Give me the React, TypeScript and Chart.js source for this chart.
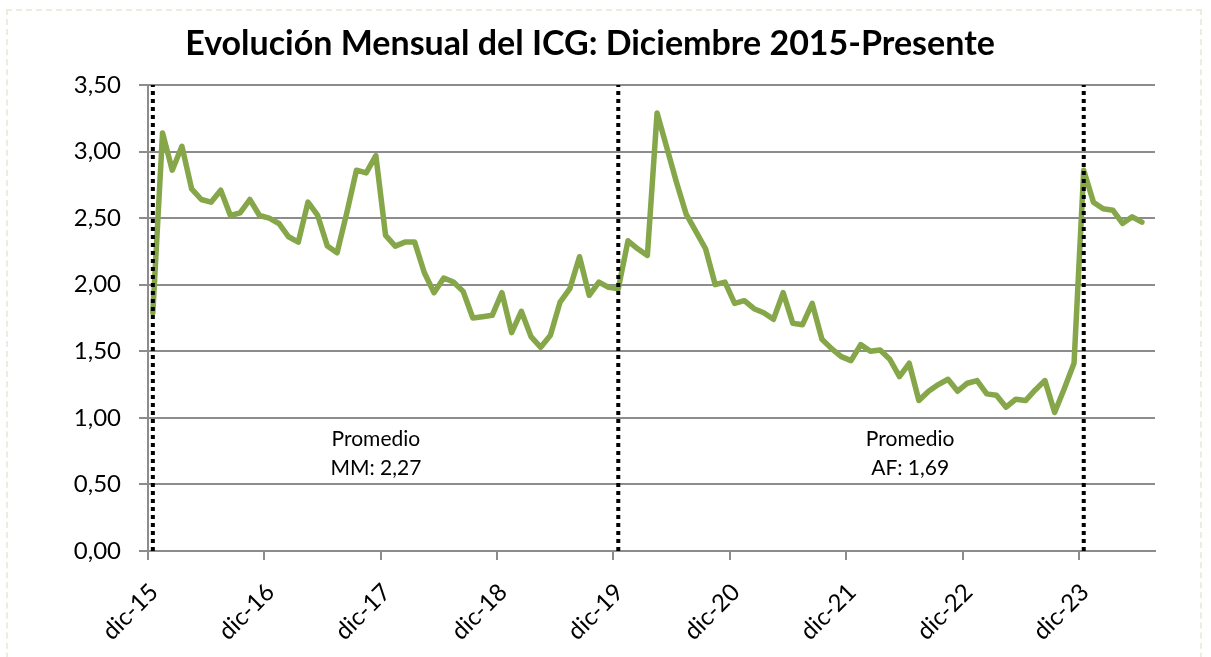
import React, { useEffect, useRef } from "react";
import { Chart, registerables } from "chart.js";

Chart.register(...registerables);

const TITLE = "Evolución Mensual del ICG: Diciembre 2015-Presente";

// Month labels shown on the x axis (one per December)
const tickLabels = ["dic-15", "dic-16", "dic-17", "dic-18", "dic-19", "dic-20", "dic-21", "dic-22", "dic-23"];

// Monthly ICG values, dic-15 .. jun-24
const icg2016 = [1.79, 3.14, 2.86, 3.04, 2.72, 2.64, 2.62, 2.71, 2.52, 2.54, 2.64, 2.52];
const icg2017 = [2.5, 2.46, 2.36, 2.32, 2.62, 2.52, 2.29, 2.24, 2.54, 2.86, 2.84, 2.97];
const icg2018 = [2.37, 2.29, 2.32, 2.32, 2.09, 1.94, 2.05, 2.02, 1.95, 1.75, 1.76, 1.77];
const icg2019 = [1.94, 1.64, 1.8, 1.61, 1.53, 1.62, 1.87, 1.97, 2.21, 1.92, 2.02, 1.98];
const icg2020 = [1.97, 2.33, 2.27, 2.22, 3.29, 3.03, 2.77, 2.53, 2.4, 2.27, 2.0, 2.02];
const icg2021 = [1.86, 1.88, 1.82, 1.79, 1.74, 1.94, 1.71, 1.7, 1.86, 1.59, 1.52, 1.46];
const icg2022 = [1.43, 1.55, 1.5, 1.51, 1.44, 1.31, 1.41, 1.13, 1.2, 1.25, 1.29, 1.2];
const icg2023 = [1.26, 1.28, 1.18, 1.17, 1.08, 1.14, 1.13, 1.21, 1.28, 1.04, 1.22, 1.41];
const icg2024 = [2.86, 2.62, 2.57, 2.56, 2.46, 2.51, 2.47];
const icgValues = [...icg2016, ...icg2017, ...icg2018, ...icg2019, ...icg2020, ...icg2021, ...icg2022, ...icg2023, ...icg2024];

// Months (index from dic-15) marked with a dotted vertical line
const eventMonths = [0, 48, 96];

// Average notes
const noteLines1 = ["Promedio", "MM: 2,27"];
const noteLines2 = ["Promedio", "AF: 1,69"];

const FONT = "Lato, 'Open Sans', sans-serif";
const GREEN = "#86a64a";
const GRID = "#8c8c8c";

export default function App() {
  const ref = useRef<HTMLCanvasElement | null>(null);

  useEffect(() => {
    if (!ref.current) return;

    const overlay = {
      id: "overlay",
      afterDraw(chart: any) {
        const ctx = chart.ctx;
        const xs = chart.scales.x;
        const ys = chart.scales.y;
        ctx.save();
        ctx.fillStyle = "#000";
        ctx.textAlign = "center";
        ctx.textBaseline = "middle";
        ctx.font = `bold 34px ${FONT}`;
        ctx.fillText(TITLE, 590, 44);

        ctx.font = `21px ${FONT}`;
        const notes = [
          { lines: noteLines1, x: 23.0 },
          { lines: noteLines2, x: 78.1 },
        ];
        const lineYs = [0.84, 0.62];
        for (const n of notes) {
          const px = xs.getPixelForValue(n.x);
          n.lines.forEach((t, k) => {
            ctx.fillText(t, px, ys.getPixelForValue(lineYs[k]));
          });
        }
        ctx.restore();
      },
    };

    const chart = new Chart(ref.current, {
      type: "line",
      data: {
        datasets: [
          ...eventMonths.map((m) => ({
            data: [
              { x: m, y: 0 },
              { x: m, y: 3.5 },
            ],
            borderColor: "#000",
            borderWidth: 4,
            borderDash: [4, 4],
            pointRadius: 0,
            order: 0,
          })),
          {
            data: icgValues.map((v, i) => ({ x: i, y: v })),
            borderColor: GREEN,
            borderWidth: 5.5,
            pointRadius: 0,
            tension: 0,
            borderJoinStyle: "round",
            borderCapStyle: "round",
            order: 1,
          },
        ] as any,
      },
      options: {
        animation: false,
        responsive: false,
        maintainAspectRatio: false,
        layout: { padding: { left: 0, right: 56, top: 85, bottom: 0 } },
        plugins: {
          legend: { display: false },
          tooltip: { enabled: false },
          title: { display: false },
        },
        scales: {
          x: {
            type: "linear",
            min: -0.5,
            max: 103.35,
            afterBuildTicks: (s: any) => {
              s.ticks = tickLabels.map((_, k) => ({ value: 12 * k - 0.5 }));
            },
            afterFit: (s: any) => {
              s.height = 106;
            },
            ticks: {
              autoSkip: false,
              minRotation: 45,
              maxRotation: 45,
              padding: 18,
              labelOffset: 6,
              color: "#000",
              font: { family: FONT, size: 24 },
              callback: (v: any) => tickLabels[Math.round((Number(v) + 0.5) / 12)] ?? "",
            },
            grid: { drawOnChartArea: false, drawTicks: true, tickLength: 9, color: GRID, lineWidth: 2 },
            border: { display: true, color: GRID, width: 2 },
          },
          y: {
            min: 0,
            max: 3.5,
            afterFit: (s: any) => {
              s.width = 148;
            },
            ticks: {
              stepSize: 0.5,
              padding: 18,
              color: "#000",
              font: { family: FONT, size: 24 },
              callback: (v: any) => Number(v).toFixed(2).replace(".", ","),
            },
            grid: { color: GRID, lineWidth: 2, tickLength: 9, drawTicks: true },
            border: { display: true, color: GRID, width: 2 },
          },
        },
      } as any,
      plugins: [overlay],
    });
    return () => chart.destroy();
  }, []);

  return (
    <div style={{ position: "fixed", left: 0, top: 0, width: 1211, height: 657, background: "#fff", overflow: "hidden" }}>
      <div
        style={{
          position: "absolute",
          left: 6,
          top: 9,
          width: 1196,
          height: 700,
          border: "2px dashed #ecece0",
          boxSizing: "border-box",
        }}
      />
      <canvas ref={ref} width={1211} height={657} style={{ position: "absolute", left: 0, top: 0, width: 1211, height: 657 }} />
    </div>
  );
}
